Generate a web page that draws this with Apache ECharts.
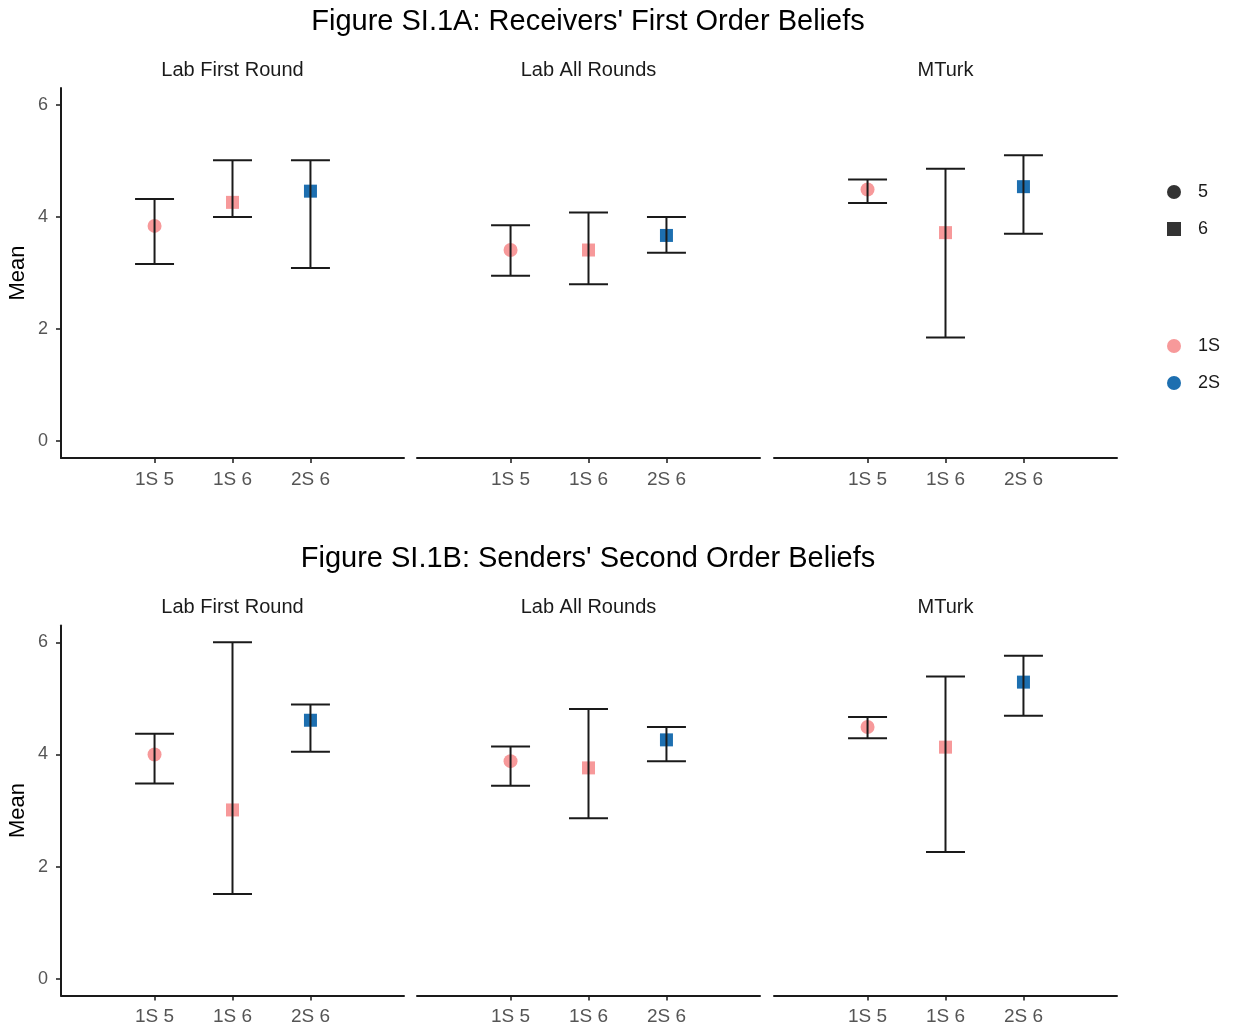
<!DOCTYPE html>
<html>
<head>
<meta charset="utf-8">
<script src="https://cdn.jsdelivr.net/npm/echarts@6/dist/echarts.min.js"></script>
<style>html,body{margin:0;padding:0;background:#fff}#c{width:1242px;height:1032px}</style>
</head>
<body>
<div id="c"></div>
<script>
// ---- data ----
const categories = ['1S 5', '1S 6', '2S 6'];
const catGroup = ['1S', '1S', '2S'];
const catShape = ['5', '6', '6'];
const panels = ['Lab First Round', 'Lab All Rounds', 'MTurk'];
const figTitles = ["Figure SI.1A: Receivers' First Order Beliefs", "Figure SI.1B: Senders' Second Order Beliefs"];
const yTicks = [0, 2, 4, 6];

// Figure A (rows: panels; cols: categories)
const meansA = [[3.84, 4.26, 4.46], [3.41, 3.41, 3.67], [4.49, 3.72, 4.54]];
const lowerA = [[3.16, 4.00, 3.09], [2.95, 2.80, 3.36], [4.25, 1.85, 3.70]];
const upperA = [[4.32, 5.01, 5.01], [3.85, 4.08, 4.00], [4.67, 4.86, 5.10]];
// Figure B
const meansB = [[4.00, 3.01, 4.61], [3.88, 3.76, 4.26], [4.49, 4.13, 5.29]];
const lowerB = [[3.48, 1.51, 4.05], [3.44, 2.86, 3.88], [4.29, 2.26, 4.69]];
const upperB = [[4.37, 6.00, 4.89], [4.14, 4.81, 4.49], [4.67, 5.39, 5.76]];

// ---- layout / style ----
const FONT = "'Liberation Sans', Arial, sans-serif";
const colors = { '1S': '#F7999A', '2S': '#1D6FB0' };
const shapeSym = { '5': 'circle', '6': 'rect' };
const panelLeft = [61, 417, 774];
const panelWidth = 343;
const figTop = [88, 625.5];
const gridHeight = 370;
const ink = '#1a1a1a';

const figs = [
  { means: meansA, lower: lowerA, upper: upperA },
  { means: meansB, lower: lowerB, upper: upperB }
];

const grid = [], xAxis = [], yAxis = [], series = [], titles = [];
let gi = 0;
figs.forEach((f, fi) => {
  titles.push({
    text: figTitles[fi], left: 588, top: fi === 0 ? 7 : 544, textAlign: 'center', padding: 0,
    textStyle: { fontFamily: FONT, fontSize: 29, fontWeight: 'normal', color: '#000' }
  });
  panels.forEach((p, pi) => {
    grid.push({ left: panelLeft[pi], top: figTop[fi], width: panelWidth, height: gridHeight });
    titles.push({
      text: p, left: panelLeft[pi] + panelWidth / 2, top: figTop[fi] - 28, textAlign: 'center', padding: 0,
      textStyle: { fontFamily: FONT, fontSize: 20, fontWeight: 'normal', color: ink }
    });
    xAxis.push({
      type: 'value', gridIndex: gi, min: -0.2, max: 4.2,
      splitLine: { show: false },
      axisLine: { show: true, onZero: false, lineStyle: { color: ink, width: 2 } },
      axisTick: { show: true, customValues: [1, 2, 3], length: 5, lineStyle: { color: ink, width: 1.5 } },
      axisLabel: {
        customValues: [1, 2, 3], margin: 12,
        formatter: v => categories[Math.round(v) - 1] || '',
        fontFamily: FONT, fontSize: 19, color: '#555'
      }
    });
    const first = pi === 0;
    yAxis.push({
      type: 'value', gridIndex: gi, min: -0.3, max: 6.3,
      show: first,
      name: first ? 'Mean' : '', nameLocation: 'middle', nameGap: 32,
      nameTextStyle: { fontFamily: FONT, fontSize: 22, color: '#000' },
      splitLine: { show: false },
      axisLine: { show: first, onZero: false, lineStyle: { color: ink, width: 2 } },
      axisTick: { show: first, customValues: yTicks, length: 5, lineStyle: { color: ink, width: 1.5 } },
      axisLabel: {
        show: first, customValues: yTicks, margin: 13,
        fontFamily: FONT, fontSize: 18, color: '#555'
      }
    });
    ['1S', '2S'].forEach(g => {
      const data = [];
      categories.forEach((c, ci) => {
        if (catGroup[ci] === g) {
          data.push({
            value: [ci + 1, f.means[pi][ci]],
            symbol: shapeSym[catShape[ci]],
            symbolSize: catShape[ci] === '5' ? 14 : 13
          });
        }
      });
      series.push({
        type: 'scatter', name: g, xAxisIndex: gi, yAxisIndex: gi,
        symbol: 'circle', itemStyle: { color: colors[g], opacity: 1 },
        data: data, z: 2, silent: true
      });
    });
    series.push({
      type: 'custom', name: 'err', xAxisIndex: gi, yAxisIndex: gi, z: 3, silent: true,
      encode: { x: 0, y: [1, 2] },
      data: categories.map((c, ci) => [ci + 1, f.lower[pi][ci], f.upper[pi][ci]]),
      renderItem: (params, api) => {
        const x = api.value(0);
        const pLo = api.coord([x, api.value(1)]);
        const pHi = api.coord([x, api.value(2)]);
        const half = api.size([0.5, 0])[0] / 2;
        const st = { stroke: ink, lineWidth: 2 };
        return {
          type: 'group', children: [
            { type: 'line', shape: { x1: pHi[0], y1: pHi[1], x2: pLo[0], y2: pLo[1] }, style: st },
            { type: 'line', shape: { x1: pHi[0] - half, y1: pHi[1], x2: pHi[0] + half, y2: pHi[1] }, style: st },
            { type: 'line', shape: { x1: pLo[0] - half, y1: pLo[1], x2: pLo[0] + half, y2: pLo[1] }, style: st }
          ]
        };
      }
    });
    gi++;
  });
});

// legend-only series for shape key
series.push({ type: 'scatter', name: '5', symbol: 'circle', itemStyle: { color: '#000' }, data: [], xAxisIndex: 0, yAxisIndex: 0 });
series.push({ type: 'scatter', name: '6', symbol: 'rect', itemStyle: { color: '#000' }, data: [], xAxisIndex: 0, yAxisIndex: 0 });

const legendText = { fontFamily: FONT, fontSize: 18, color: '#1a1a1a', padding: [0, 0, 0, 12] };
const chart = echarts.init(document.getElementById('c'), null, { renderer: 'canvas' });
chart.setOption({
  animation: false,
  backgroundColor: '#fff',
  title: titles,
  grid: grid,
  xAxis: xAxis,
  yAxis: yAxis,
  legend: [
    {
      orient: 'vertical', left: 1167, top: 183, padding: 0, itemWidth: 14, itemHeight: 14, itemGap: 19,
      selectedMode: false, textStyle: legendText,
      data: [{ name: '5', icon: 'circle' }, { name: '6', icon: 'rect' }]
    },
    {
      orient: 'vertical', left: 1167, top: 337, padding: 0, itemWidth: 14, itemHeight: 14, itemGap: 19,
      selectedMode: false, textStyle: legendText,
      data: [{ name: '1S', icon: 'circle' }, { name: '2S', icon: 'circle' }]
    }
  ],
  series: series
});
</script>
</body>
</html>
